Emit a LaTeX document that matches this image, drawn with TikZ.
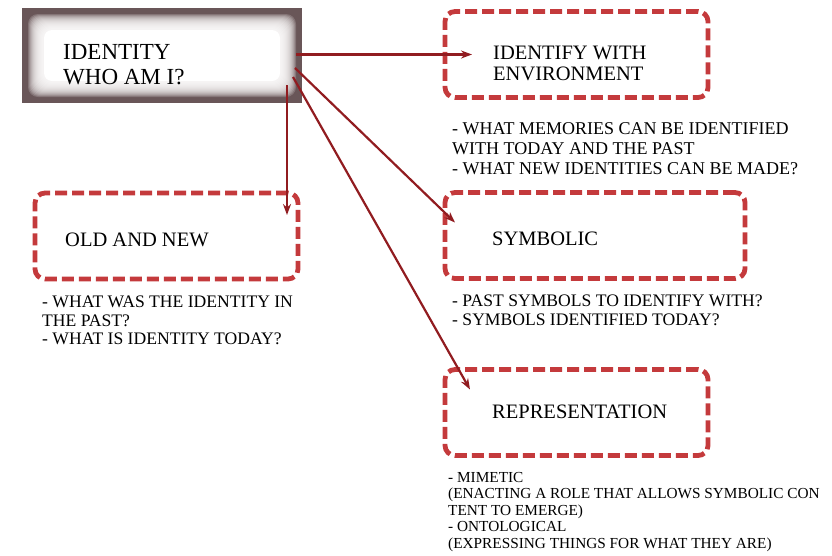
\documentclass[tikz,border=0pt]{standalone}
\usepackage{fontspec}
\setmainfont{Liberation Serif}
\usetikzlibrary{arrows.meta}
\definecolor{boxred}{RGB}{196,58,60}
\definecolor{arrowred}{RGB}{145,28,32}
\definecolor{framebrown}{RGB}{105,86,88}
\begin{document}
\begin{tikzpicture}[x=1pt, y=-1pt,
    dbox/.style={draw=boxred, line width=4.8pt, dash pattern=on 12pt off 5pt,
        rounded corners=10pt, minimum width=#1, minimum height=86pt, inner sep=0pt, outer sep=0pt},
    title/.style={font=\fontsize{20.5}{21}\selectfont, align=left, inner sep=0pt, anchor=west},
    notes/.style={font=\fontsize{17.6}{18.5}\selectfont, align=left, inner sep=0pt, anchor=north west},
    link/.style={draw=arrowred, line width=2.2pt, -{Stealth[length=11pt,width=8pt]}}]
    \useasboundingbox (0,0) rectangle (832,555);
    \node[fill=framebrown, minimum width=280pt, minimum height=95pt, inner sep=0pt, outer sep=0pt] (main) at (162,55.5) {};
    \foreach \i in {6,...,20}
        \fill[white, fill opacity=0.18, rounded corners=10pt]
            ([shift={(\i,\i)}]main.north west) rectangle ([shift={(-\i,-\i)}]main.south east);
    \fill[white, rounded corners=8pt] ([shift={(22,22)}]main.north west) rectangle ([shift={(-22,-22)}]main.south east);
    \node[font=\fontsize{23}{25}\selectfont, align=left, inner sep=0pt, anchor=north west] (mainT)
        at ([shift={(41,36)}]main.north west) {IDENTITY\\WHO AM I?};

    \node[dbox=263pt] (env) at (576.5,54.5) {};
    \node[dbox=263pt] (old) at (166.5,236) {};
    \node[dbox=300pt] (sym) at (595,235.5) {};
    \node[dbox=263pt] (rep) at (576.5,412.5) {};

    \node[title] (envT) at ([shift={(48,9)}]env.west) {IDENTIFY WITH\\ENVIRONMENT};
    \node[title] (oldT) at ([shift={(30,4)}]old.west) {OLD AND NEW};
    \node[title] (symT) at ([shift={(47,3)}]sym.west) {SYMBOLIC};
    \node[title] (repT) at ([shift={(47,-1)}]rep.west) {REPRESENTATION};

    \node[notes, font=\fontsize{18}{20}\selectfont] (envN) at (452,122)
        {- WHAT MEMORIES CAN BE IDENTIFIED\\WITH TODAY AND THE PAST\\- WHAT NEW IDENTITIES CAN BE MADE?};
    \node[notes] (oldN) at (42,296)
        {- WHAT WAS THE IDENTITY IN\\THE PAST?\\- WHAT IS IDENTITY TODAY?};
    \node[notes] (symN) at (452,295)
        {- PAST SYMBOLS TO IDENTIFY WITH?\\- SYMBOLS IDENTIFIED TODAY?};
    \node[notes, font=\fontsize{15.3}{16.5}\selectfont] (repN) at (448,472)
        {- MIMETIC\\(ENACTING A ROLE THAT ALLOWS SYMBOLIC CON\\TENT TO EMERGE)\\- ONTOLOGICAL\\(EXPRESSING THINGS FOR WHAT THEY ARE)};

    \draw[link] ([shift={(-6,-1)}]main.east) -- ([shift={(27,0)}]env.west);
    \draw[link] ([shift={(-15,-18)}]main.south east) -- ([shift={(-11,22)}]old.north east);
    \draw[link] ([shift={(-7,12.5)}]main.east) -- ([shift={(10,30)}]sym.north west);
    \draw[link] ([shift={(-9,21.5)}]main.east) -- ([shift={(25,20)}]rep.north west);
\end{tikzpicture}
\end{document}
